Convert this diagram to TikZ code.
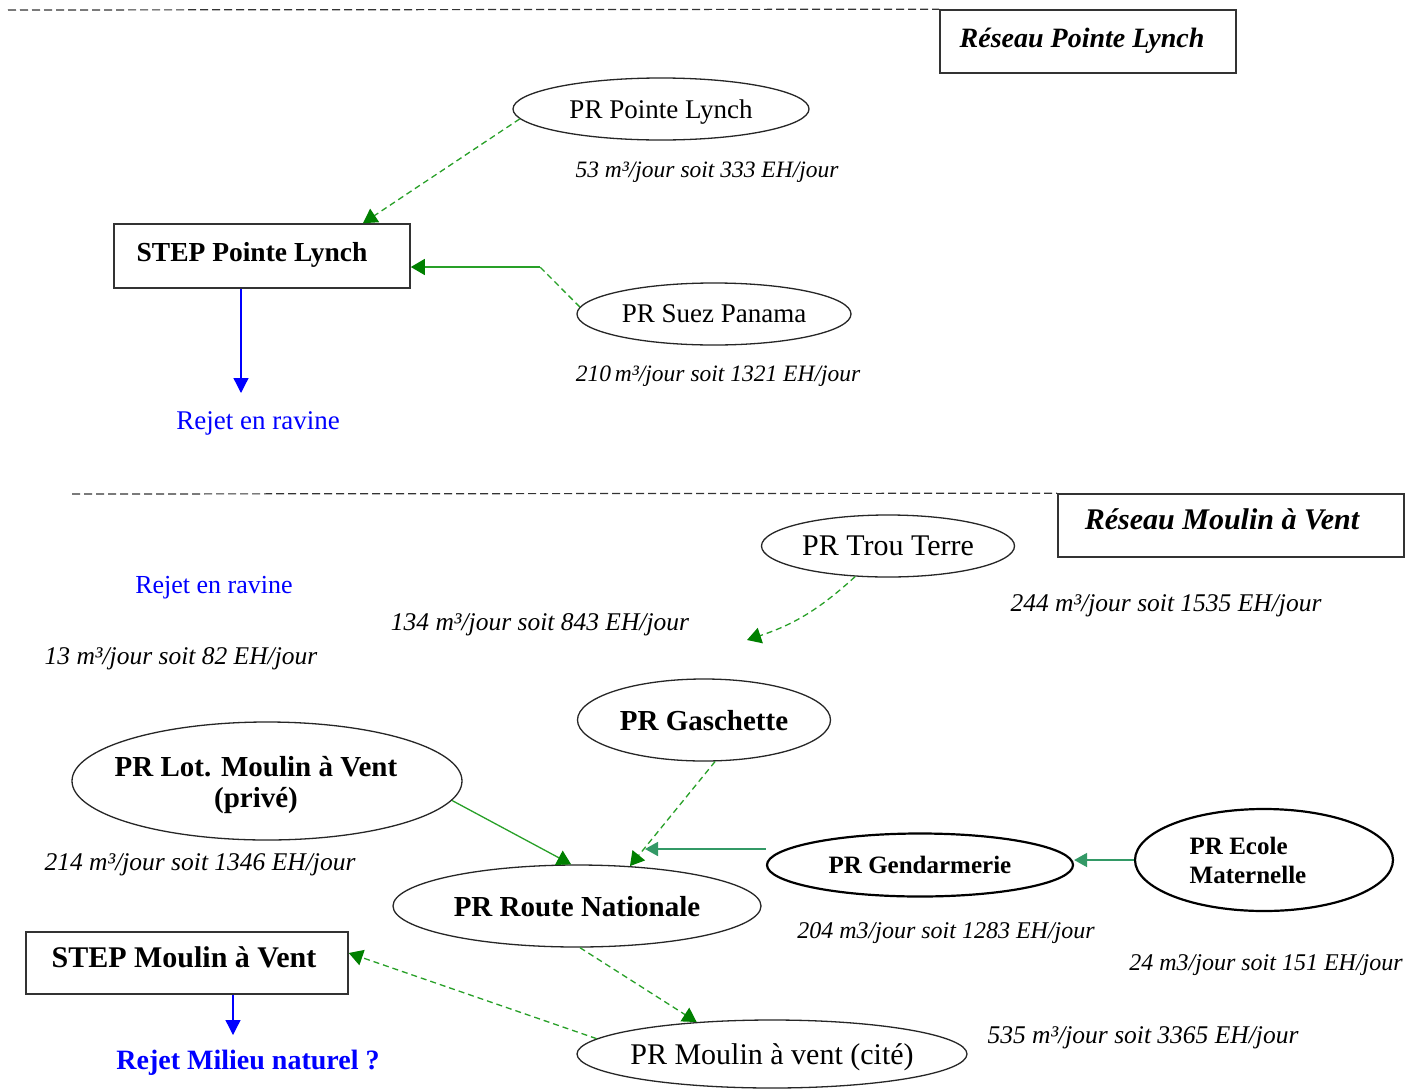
\documentclass[tikz,border=0pt]{standalone}
\usepackage{fontspec}
\setmainfont{Liberation Serif}
\usetikzlibrary{arrows.meta,shapes.geometric}

\definecolor{flow}{RGB}{40,160,40}
\definecolor{tipg}{RGB}{0,128,0}
\definecolor{seag}{RGB}{51,153,102}
\definecolor{rejet}{RGB}{0,0,255}

\newcommand{\fsz}[1]{\fontsize{#1}{#1}\selectfont}

\tikzset{
  pr/.style={ellipse, draw=black!85, line width=1.3pt, inner sep=0pt, align=center},
  prone/.style={pr, text depth=0pt},
  prthick/.style={pr, draw=black, line width=2.2pt},
  stepbox/.style={rectangle, draw=black!80, line width=1.6pt, inner sep=0pt},
  flowline/.style={draw=flow, line width=1.3pt},
  dashflow/.style={flowline, dash pattern=on 6pt off 4pt},
  sealine/.style={draw=seag, line width=1.8pt},
  blueline/.style={draw=rejet, line width=1.3pt},
  gtip/.style={-{Triangle[length=14pt,width=16pt,color=tipg]}},
  stip/.style={-{Triangle[length=13pt,width=14pt,color=seag]}},
  btip/.style={-{Triangle[length=15pt,width=15pt,color=rejet]}},
  sepline/.style={draw=black!80, line width=1.2pt, dash pattern=on 8pt off 4pt},
  title/.style={inner sep=0pt, text depth=0pt},
  lbl/.style={title, font=\fsz{23.5}\itshape},
  lbltwo/.style={title, font=\fsz{25.5}\itshape},
  lblthree/.style={title, font=\fsz{24}\itshape},
}

\begin{document}
\begin{tikzpicture}[x=1pt, y=-1pt]
\fill[white] (0,0) rectangle (1406,1090);
\useasboundingbox (0,0) rectangle (1406,1090);

% ---------- Réseau Pointe Lynch ----------
\node[stepbox, minimum width=296pt, minimum height=63pt] (rpl) at (1088,41.5) {};
\node[title, font=\fsz{28}\bfseries\itshape] (rplt) at (1082,38) {Réseau Pointe Lynch};
\coordinate (sepa) at (8,10);
\draw[sepline] (sepa) -- (rpl.north west);

\node[prone, minimum width=296pt, minimum height=62pt, font=\fsz{27}] (pl) at (661,109) {PR Pointe Lynch};
\node[lbl] (plq) at (707,170) {53 m³/jour soit 333 EH/jour};

\node[stepbox, minimum width=296pt, minimum height=64pt] (spl) at (262,256) {};
\node[title, font=\fsz{27.5}\bfseries] (splt) at (252,252) {STEP Pointe Lynch};

\node[prone, minimum width=274pt, minimum height=62pt, font=\fsz{27}] (ps) at (714,314) {PR Suez Panama};
\node[lbl] (psq) at (718,374) {210\,m³/jour soit 1321 EH/jour};

\draw[dashflow, gtip] (pl.184) -- ([xshift=101pt]spl.north);
\coordinate (psbend) at (540,267);
\draw[dashflow] (ps.177) -- (psbend);
\draw[flowline, gtip] (psbend) -- ([yshift=-11pt]spl.east);

\coordinate (rpltip) at (241,393);
\draw[blueline, btip] ([xshift=-21pt]spl.south) -- (rpltip);
\node[title, font=\fsz{27}, text=rejet] (rjpl) at (258,421) {Rejet en ravine};

% ---------- Réseau Moulin à Vent ----------
\node[stepbox, minimum width=346pt, minimum height=63pt] (rmv) at (1231,525.5) {};
\node[title, font=\fsz{30}\bfseries\itshape] (rmvt) at (1222,519) {Réseau Moulin à Vent};
\coordinate (sepb) at (72,494);
\draw[sepline] (sepb) -- (rmv.north west);

\node[prone, minimum width=253pt, minimum height=62pt, font=\fsz{30}] (tt) at (888,546) {PR Trou Terre};
\node[lbltwo] (ttq) at (1166,603) {244 m³/jour soit 1535 EH/jour};
\node[lbltwo] (qtt) at (540,622) {134 m³/jour soit 843 EH/jour};
\coordinate (ttend) at (747,640);
\draw[dashflow, gtip] (tt.223) to[bend left=12] (ttend);

\node[title, font=\fsz{26}, text=rejet] (rjmv) at (214,585) {Rejet en ravine};
\node[lbltwo] (qrv) at (181,656) {13 m³/jour soit 82 EH/jour};

\node[prone, minimum width=253pt, minimum height=82pt, font=\fsz{29}\bfseries] (ga) at (704,720) {PR Gaschette};

\node[pr, minimum width=390pt, minimum height=118pt] (lot) at (267,781) {};
\node[inner sep=0pt, align=center, font={\fontsize{29}{31}\selectfont\bfseries}] (lott) at (256,785)
  {PR Lot. Moulin à Vent\\(privé)};
\node[lbltwo] (qlot) at (200,862) {214 m³/jour soit 1346 EH/jour};

\node[prone, minimum width=368pt, minimum height=82pt, font=\fsz{29}\bfseries] (rn) at (577,906) {PR Route Nationale};

\node[prthick, text depth=0pt, minimum width=306pt, minimum height=63pt, font=\fsz{25}\bfseries] (gd) at (920,865) {PR Gendarmerie};
\node[lblthree] (qgd) at (946,931) {204 m3/jour soit 1283 EH/jour};

\node[prthick, minimum width=258pt, minimum height=102pt, font={\fontsize{25}{29}\selectfont\bfseries}, align=left] (em) at (1264,860)
  {PR Ecole\\Maternelle\hspace*{32pt}};
\node[lblthree] (qem) at (1266,963) {24 m3/jour soit 151 EH/jour};

\node[stepbox, minimum width=322pt, minimum height=62pt] (smv) at (187,963) {};
\node[title, font=\fsz{30}\bfseries] (smvt) at (184,957) {STEP Moulin à Vent};
\coordinate (smvtip) at (233,1035);
\draw[blueline, btip] ([xshift=46pt]smv.south) -- (smvtip);
\node[title, font=\fsz{28}\bfseries, text=rejet] (rjmn) at (248,1060) {Rejet Milieu naturel ?};

\node[prone, minimum width=390pt, minimum height=68pt, font=\fsz{30}] (pm) at (772,1054) {\makebox[0pt]{PR Moulin à vent (cité)}};
\node[lbltwo] (qpm) at (1143,1035) {535 m³/jour soit 3365 EH/jour};

% ---------- connectors ----------
\draw[flowline, gtip] (lot.-6) -- (rn.98);
\draw[dashflow, gtip] (ga.285) -- (rn.37);
\coordinate (gdend) at (645,849);
\draw[sealine, stip] (gd.west |- gdend) -- (gdend);
\draw[sealine, stip] (em.west) -- (em.west -| gd.east);
\draw[dashflow, gtip] (rn.274) -- (pm.157);
\draw[dashflow, gtip] (pm.175) -- ([yshift=10pt]smv.east);

\end{tikzpicture}
\end{document}
